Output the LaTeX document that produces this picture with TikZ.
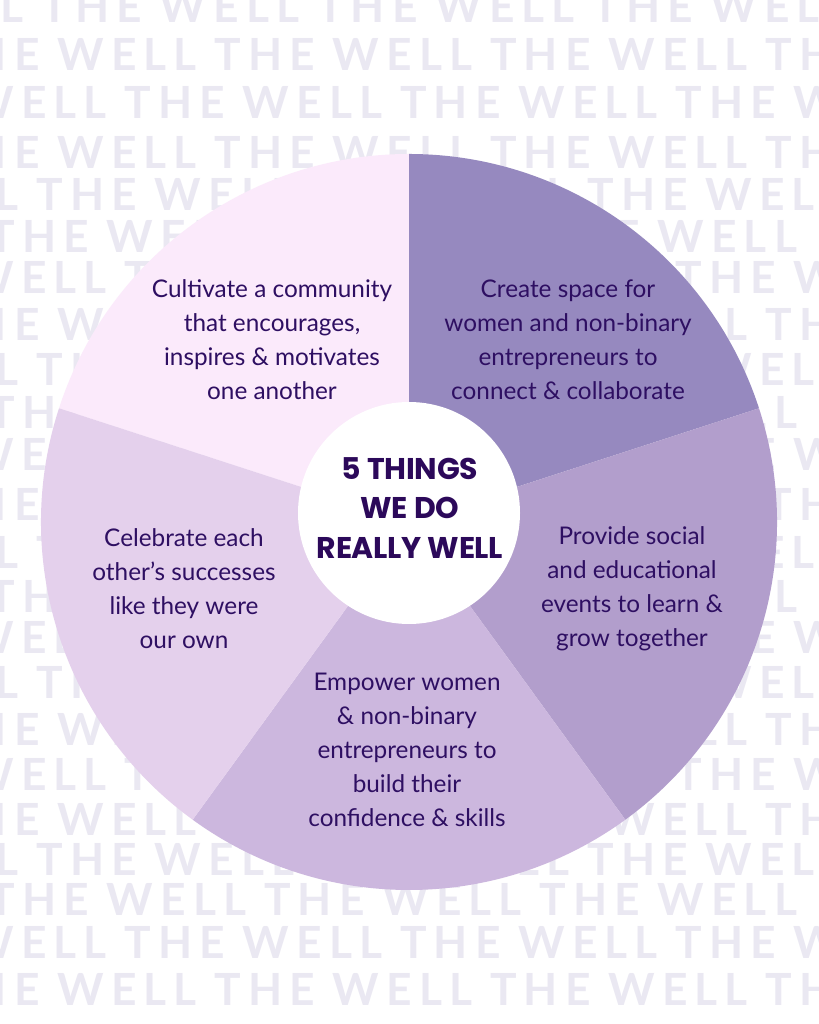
\documentclass[tikz,border=0pt]{standalone}
\usepackage{fontspec}
\setmainfont{Lato}
\newfontfamily\wmfont{Lato}[LetterSpace=16]
\newfontfamily\hubfont{Poppins}[LetterSpace=-1]

\definecolor{ink}{RGB}{46,15,98}
\definecolor{hubink}{RGB}{44,9,90}
\definecolor{wmgrey}{RGB}{234,232,242}
\definecolor{secA}{RGB}{251,234,251}
\definecolor{secB}{RGB}{150,137,191}
\definecolor{secC}{RGB}{178,158,204}
\definecolor{secD}{RGB}{204,183,222}
\definecolor{secE}{RGB}{228,208,236}

\begin{document}
\begin{tikzpicture}[x=0.025cm, y=0.025cm,
    wheeltext/.style={align=center, text=ink, inner sep=0pt, font=\fontsize{17.3}{24.2}\selectfont},
    hub/.style={align=center, text=hubink, inner sep=0pt, font=\hubfont\bfseries\fontsize{21.3}{28.4}\selectfont},
    wm/.style={anchor=base west, inner sep=0pt, text=wmgrey, font=\wmfont\bfseries\fontsize{31.5}{31.5}\selectfont}]

    \useasboundingbox (0,0) rectangle (819,1024);
    \fill[white] (0,0) rectangle (819,1024);

    % watermark rows behind the wheel
    \begin{scope}
        \clip (0,0) rectangle (819,1024);
        \foreach \ypx/\xoff [count=\i] in {7/50, 55/223, 103/133, 153/223, 195/45, 237/-3,
                278/133, 325/223, 370/45, 413/-3, 455/133, 505/223, 553/45, 597/-3,
                638/133, 683/45, 730/223, 775/133, 820/223, 860/45, 900/-3, 943/133, 990/223}
            \node[wm] (wm\i) at (\xoff-284, 1024-\ypx-16) {THE WELL THE WELL THE WELL THE WELL};
    \end{scope}

    % the wheel
    \coordinate (wheel) at (409,502);
    \fill[secA] (wheel) -- ++(90:368) arc[start angle=90, end angle=162, radius=368] -- cycle;
    \fill[secB] (wheel) -- ++(18:368) arc[start angle=18, end angle=90, radius=368] -- cycle;
    \fill[secC] (wheel) -- ++(-54:368) arc[start angle=-54, end angle=18, radius=368] -- cycle;
    \fill[secD] (wheel) -- ++(-126:368) arc[start angle=-126, end angle=-54, radius=368] -- cycle;
    \fill[secE] (wheel) -- ++(162:368) arc[start angle=162, end angle=234, radius=368] -- cycle;
    \fill[white] (409,511) circle[radius=111];

    \node[hub] (title) at (410,516) {5 THINGS\\WE DO\\REALLY WELL};

    \node[wheeltext] (cultivate) at (272,684) {Cultivate a community\\that encourages,\\inspires \& motivates\\one another};
    \node[wheeltext] (create) at (568,684) {Create space for\\women and non-binary\\entrepreneurs to\\connect \& collaborate};
    \node[wheeltext] (provide) at (632,435) {Provide social\\and educational\\events to learn \&\\grow together};
    \node[wheeltext] (empower) at (407,274) {Empower women\\\& non-binary\\entrepreneurs to\\build their\\confidence \& skills};
    \node[wheeltext] (celebrate) at (184,435) {Celebrate each\\other’s successes\\like they were\\our own};
\end{tikzpicture}
\end{document}
